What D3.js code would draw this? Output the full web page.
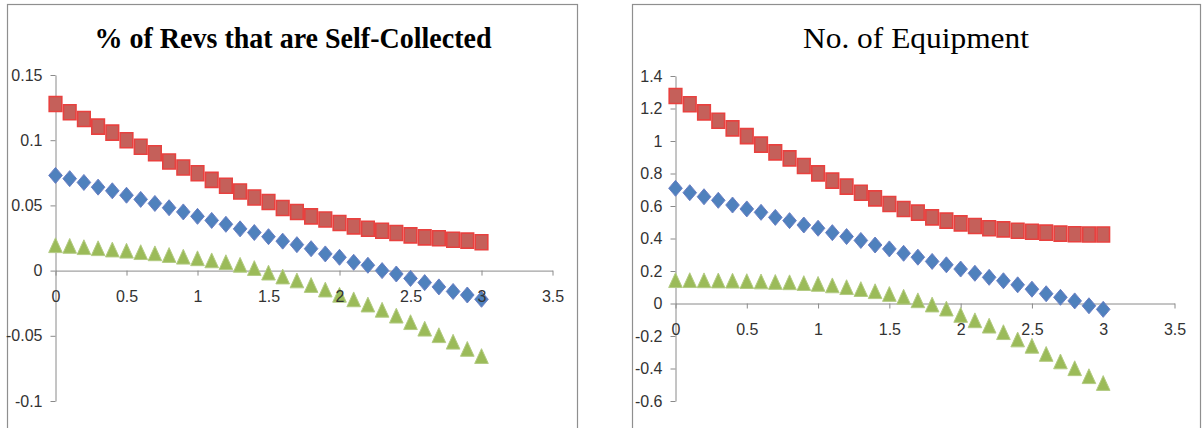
<!DOCTYPE html>
<html>
<head>
<meta charset="utf-8">
<script src="https://cdn.jsdelivr.net/npm/d3@7/dist/d3.min.js"></script>
<style>
  html, body { margin: 0; padding: 0; background: #fff; }
  svg { display: block; }
  .tick text { font-family: "Liberation Sans Narrow", "Arial Narrow", "Liberation Sans", sans-serif; font-size: 16px; fill: #333; }
</style>
</head>
<body>
<svg id="chart" width="1203" height="428"></svg>
<script>
// x positions shared by every series
const xValues = d3.range(31).map(i => +(i / 10).toFixed(1));
const xTicks = [0, 0.5, 1, 1.5, 2, 2.5, 3, 3.5];

// Panel 1: share of revenues that are self-collected
const selfTitle = "% of Revs that are Self-Collected";
const selfTicks = [-0.1, -0.05, 0, 0.05, 0.1, 0.15];
const selfBlue = [0.073, 0.0705, 0.0676, 0.064, 0.0612, 0.0578, 0.0546, 0.0515, 0.0482, 0.045, 0.0416,
                  0.0385, 0.0355, 0.032, 0.0292, 0.026, 0.0226, 0.0199, 0.0168, 0.0128, 0.0102,
                  0.0064, 0.0041, 0.0, -0.0026, -0.006, -0.0092, -0.0125, -0.016, -0.0187, -0.022];
const selfRed = [0.1278, 0.1214, 0.1163, 0.1104, 0.1058, 0.100, 0.0950, 0.0900, 0.0837, 0.0791, 0.0747,
                 0.0696, 0.0651, 0.0607, 0.0561, 0.0526, 0.0480, 0.0449, 0.0416, 0.0392, 0.0365,
                 0.0339, 0.0321, 0.0306, 0.0288, 0.0270, 0.0255, 0.0248, 0.0237, 0.0230, 0.0217];
const selfGreen = [0.019, 0.0185, 0.0175, 0.0167, 0.0157, 0.0148, 0.0137, 0.0128, 0.0115, 0.0102, 0.009,
                   0.0074, 0.006, 0.004, 0.0015, -0.002, -0.005, -0.008, -0.0115, -0.015, -0.019,
                   -0.0225, -0.0265, -0.0305, -0.035, -0.040, -0.045, -0.050, -0.055, -0.0605, -0.066];

// Panel 2: number of equipment
const equipTitle = "No. of Equipment";
const equipTicks = [-0.6, -0.4, -0.2, 0, 0.2, 0.4, 0.6, 0.8, 1, 1.2, 1.4];
const equipBlue = [0.709, 0.682, 0.657, 0.635, 0.606, 0.582, 0.561, 0.530, 0.510, 0.483, 0.463,
                   0.436, 0.412, 0.388, 0.360, 0.336, 0.309, 0.285, 0.259, 0.238, 0.212,
                   0.186, 0.161, 0.140, 0.115, 0.088, 0.060, 0.038, 0.016, -0.014, -0.036];
const equipRed = [1.277, 1.226, 1.176, 1.125, 1.078, 1.030, 0.978, 0.930, 0.893, 0.846, 0.801,
                  0.756, 0.719, 0.682, 0.647, 0.612, 0.582, 0.559, 0.530, 0.510, 0.493,
                  0.477, 0.463, 0.456, 0.448, 0.442, 0.436, 0.430, 0.426, 0.425, 0.425];
const equipGreen = [0.140, 0.140, 0.139, 0.138, 0.137, 0.134, 0.132, 0.129, 0.127, 0.122, 0.117,
                    0.108, 0.097, 0.085, 0.072, 0.055, 0.038, 0.016, -0.010, -0.035, -0.074,
                    -0.107, -0.140, -0.180, -0.225, -0.264, -0.314, -0.360, -0.402, -0.451, -0.493];

const svg = d3.select("#chart");

// marker outlines, half-width / half-height
const HW = 6.8, HH = 8;
const shapes = {
  diamond: `M0,${-HH}L${HW},0L0,${HH}L${-HW},0Z`,
  square: `M${-HW + 0.5},${-HH + 0.5}H${HW - 0.5}V${HH - 0.5}H${-HW + 0.5}Z`,
  triangle: `M0,${-HH}L${HW},${HH * 0.85}L${-HW},${HH * 0.85}Z`
};
const styles = {
  diamond: { fill: "#4F81BD", stroke: "#6C7FC4", width: 1 },
  square: { fill: "#C5605A", stroke: "#E8413F", width: 1.6 },
  triangle: { fill: "#9BBB59", stroke: "#B3CB83", width: 1 }
};

function panel(cfg) {
  const g = svg.append("g");

  // frame
  g.append("rect")
    .attr("x", cfg.frame[0] + 0.5).attr("y", 4.5)
    .attr("width", cfg.frame[1] - cfg.frame[0]).attr("height", 440)
    .attr("fill", "none").attr("stroke", "#8F8F8F").attr("stroke-width", 1.2);

  const x = d3.scaleLinear().domain([0, 3.5]).range(cfg.xRange);
  const y = d3.scaleLinear().domain(d3.extent(cfg.yTicks)).range(cfg.yRange);

  const yAxis = g.append("g")
    .attr("transform", `translate(${x(0)},0)`)
    .call(d3.axisLeft(y).tickValues(cfg.yTicks).tickFormat(String)
      .tickSize(5).tickSizeOuter(0).tickPadding(8));
  const xAxis = g.append("g")
    .attr("transform", `translate(0,${y(0)})`)
    .call(d3.axisBottom(x).tickValues(xTicks).tickFormat(String)
      .tickSize(5).tickSizeOuter(0).tickPadding(15));
  g.selectAll(".domain, .tick line").attr("stroke", "#8A8A8A").attr("stroke-width", 1);

  // series in drawing order
  cfg.series.forEach(s => {
    const st = styles[s.shape];
    g.append("g").selectAll("path")
      .data(s.values.map((v, i) => [xValues[i], v]))
      .join("path")
      .attr("d", shapes[s.shape])
      .attr("transform", d => `translate(${x(d[0])},${y(d[1])})`)
      .attr("fill", st.fill).attr("stroke", st.stroke).attr("stroke-width", st.width);
  });

  // tick labels sit above the markers
  const top = g.append("g");
  [[yAxis, "end"], [xAxis, "middle"]].forEach(([ax, anchor]) => ax.selectAll(".tick").each(function () {
    const t = d3.select(this);
    const tr = t.attr("transform");
    const lbl = t.select("text").remove().node();
    top.append("g").attr("class", "tick")
      .attr("transform", `${ax.attr("transform")} ${tr}`)
      .attr("text-anchor", anchor)
      .node().appendChild(lbl);
  }));
  top.selectAll("text").attr("fill", "#333");

  g.append("text")
    .attr("x", cfg.titleX).attr("y", 48)
    .attr("text-anchor", "middle")
    .attr("font-family", "'Liberation Serif', 'DejaVu Serif', serif")
    .attr("font-size", 29)
    .attr("font-weight", cfg.bold ? "bold" : "normal")
    .attr("textLength", cfg.titleW).attr("lengthAdjust", "spacingAndGlyphs")
    .attr("fill", "#000")
    .text(cfg.title);
}

panel({
  frame: [7, 577], xRange: [55.5, 552.5], yRange: [401, 75], yTicks: selfTicks,
  title: selfTitle, titleX: 293, titleW: 397, bold: true,
  series: [
    { shape: "diamond", values: selfBlue },
    { shape: "square", values: selfRed },
    { shape: "triangle", values: selfGreen }
  ]
});

panel({
  frame: [632, 1200], xRange: [675.5, 1174.5], yRange: [401, 76], yTicks: equipTicks,
  title: equipTitle, titleX: 916, titleW: 226, bold: false,
  series: [
    { shape: "diamond", values: equipBlue },
    { shape: "square", values: equipRed },
    { shape: "triangle", values: equipGreen }
  ]
});
</script>
</body>
</html>
